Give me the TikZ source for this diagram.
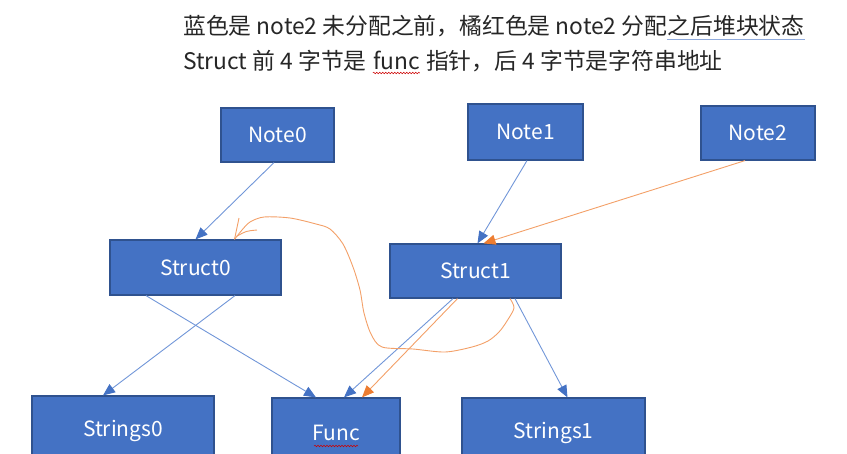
\documentclass[tikz,border=0pt]{standalone}
\usepackage{fontspec}
\setmainfont{Noto Sans CJK SC}
\usetikzlibrary{arrows.meta,positioning,decorations.pathmorphing}
\definecolor{boxblue}{HTML}{4472C4}
\definecolor{boxedge}{HTML}{2F528F}
\definecolor{linkblue}{HTML}{7196D8}
\definecolor{tangerine}{HTML}{ED7D31}
\definecolor{orangeline}{HTML}{F3A068}
\definecolor{checkblue}{HTML}{8FAADC}
\begin{document}
\begin{tikzpicture}[x=1pt, y=-1pt,
  chunk/.style={draw=boxedge, line width=1.2pt, fill=boxblue, text=white,
    font=\fontsize{21}{24}\selectfont, inner sep=0pt},
  link/.style={draw=linkblue, line width=0.9pt,
    -{Triangle[length=12pt,width=10pt,color=boxblue]}},
  hotlink/.style={draw=orangeline, line width=0.9pt,
    -{Triangle[length=12pt,width=10pt,color=tangerine]}},
  caption/.style={font=\fontsize{22.8}{26}\selectfont, inner sep=0pt, text=black!85},
  squiggle/.style={draw=red!80!black, line width=0.5pt,
    decorate, decoration={snake, amplitude=0.8pt, segment length=3pt}}]
  \useasboundingbox (0,0) rectangle (847,453);
  \clip (0,0) rectangle (847,453);
  % caption lines
  \node[caption, anchor=base west] (head1) at (183,34) {蓝色是 note2 未分配之前，橘红色是 note2 分配};
  \node[caption, anchor=base west] (head1b) at (head1.base east) {之后堆块状态};
  \draw[checkblue, line width=1pt] ([yshift=-5pt]head1b.base west) -- ([yshift=-5pt]head1b.base east);
  \node[caption, anchor=base west] (head2) at (183,69) {Struct 前 4 字节是};
  \node[caption, anchor=base west, xshift=6pt] (head2b) at (head2.base east) {func};
  \node[caption, anchor=base west, xshift=6pt] (head2c) at (head2b.base east) {指针，后 4 字节是字符串地址};
  \draw[squiggle] ([yshift=-4pt]head2b.base west) -- ([yshift=-4pt]head2b.base east);
  % notes
  \node[chunk, minimum width=113, minimum height=54] (note0) at (277.5,135) {Note0};
  \node[chunk, minimum width=115, minimum height=56] (note1) at (525.5,132) {Note1};
  \node[chunk, minimum width=114, minimum height=54] (note2) at (758,133) {Note2};
  % structs
  \node[chunk, minimum width=171, minimum height=55] (struct0) at (195.5,267.5) {Struct0};
  \node[chunk, minimum width=171, minimum height=54] (struct1) at (475.5,271) {Struct1};
  % targets (cut by the bottom edge)
  \node[chunk, minimum width=182, minimum height=70] (strings0) at (123,431) {Strings0};
  \node[chunk, minimum width=128, minimum height=70] (func) at (336,433) {Func};
  \node[chunk, minimum width=183, minimum height=70] (strings1) at (553.5,433) {Strings1};
  \draw[squiggle] ([xshift=-22pt,yshift=-13pt]func.center) -- ([xshift=22pt,yshift=-13pt]func.center);
  % blue links
  \draw[link] ([xshift=-3.5pt]note0.south) -- (struct0.north);
  \draw[link] ([xshift=1.5pt]note1.south) -- ([xshift=2pt]struct1.north);
  \draw[link] ([xshift=39.5pt]struct0.south) -- ([xshift=-20pt]strings0.north);
  \draw[link] ([xshift=-49.5pt]struct0.south) -- ([xshift=-20pt]func.north);
  \draw[link] ([xshift=-22.5pt]struct1.south) -- ([xshift=8pt]func.north);
  \draw[link] ([xshift=39.5pt]struct1.south) -- ([xshift=14pt]strings1.north);
  % orange links
  \draw[hotlink] ([xshift=-13pt]note2.south) -- ([xshift=8pt]struct1.north);
  \draw[hotlink] ([xshift=-18pt]struct1.south) -- ([xshift=26pt]func.north);
  % hand drawn arrow
  \draw[orangeline, line width=0.9pt, line join=round]
    plot[smooth] coordinates {([xshift=34.5pt]struct1.south) (514,308) (507,321) (499,332)
      (488,341) (472,347) (445,352) (413,349) (382,347) (371,334) (364,313) (360,290)
      (353,267) (343,244) (330,229) (316,224) (290,218) (264,217) (250,222) (242,230)
      ([xshift=39pt]struct0.north)};
  \draw[orangeline, line width=0.9pt] ([xshift=39pt]struct0.north) -- (239,218);
  \draw[orangeline, line width=0.9pt] ([xshift=41pt,yshift=3pt]struct0.north) .. controls (246,231) .. (257,230);
\end{tikzpicture}
\end{document}
